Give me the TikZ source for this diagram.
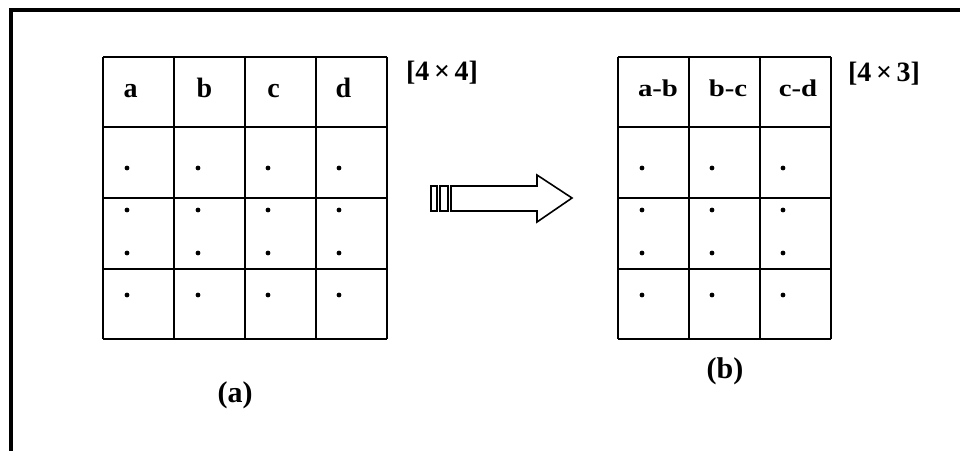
\documentclass[tikz,border=0pt]{standalone}
\usepackage{fontspec}
\setmainfont{Liberation Serif}
\usepackage{tikz}
\usetikzlibrary{positioning,calc}
\newcommand{\widetext}[1]{\scalebox{1.2}[1]{#1}}

\begin{document}
\begin{tikzpicture}[x=1pt,y=-1pt,line join=miter,
  cell/.style={line width=1.6pt},
  collabel/.style={font=\bfseries\fontsize{28}{28}\selectfont,inner sep=0pt,anchor=base},
  pairlabel/.style={font=\bfseries\fontsize{24}{24}\selectfont,inner sep=0pt,anchor=base},
  dimlabel/.style={font=\bfseries\fontsize{28}{28}\selectfont,inner sep=0pt,anchor=base},
  sublabel/.style={font=\bfseries\fontsize{30}{30}\selectfont,inner sep=0pt,anchor=base}]
\useasboundingbox (0,0) rectangle (960,450);
% frame
\draw[line width=3.5pt](11,452)--(11,10)--(962,10);
% table (a)
\foreach \x in {103,174,245,316,387} \draw[cell](\x,57)--(\x,339);
\foreach \y in {57,127,198,269,339} \draw[cell](103,\y)--(387,\y);
\node[collabel] (ca) at (130.5,97) {a};
\node[collabel] (cb) at (204.5,97) {b};
\node[collabel] (cc) at (273.5,97) {c};
\node[collabel] (cd) at (343.5,97) {d};
\foreach \x in {127,198,268,339}
  \foreach \y in {168,210,253,295} \fill(\x,\y)circle(2.4);
\node[dimlabel] (sa) at (442,80) {[4\,×\,4]};
\node[sublabel] (labela) at (235,402) {(a)};
% arrow
\draw[cell](431,186)rectangle(437,211);
\draw[cell](440,186)rectangle(448,211);
\draw[cell](451,186)--(537,186)--(537,175)--(572,198)--(537,222)--(537,211)--(451,211)--cycle;
% table (b)
\foreach \x in {618,689,760,831} \draw[cell](\x,57)--(\x,339);
\foreach \y in {57,127,198,269,339} \draw[cell](618,\y)--(831,\y);
\node[pairlabel] (cab) at (658,96) {\widetext{a-b}};
\node[pairlabel] (cbc) at (728,96) {\widetext{b-c}};
\node[pairlabel] (ccd) at (798,96) {\widetext{c-d}};
\foreach \x in {642,712,783}
  \foreach \y in {168,210,253,295} \fill(\x,\y)circle(2.4);
\node[dimlabel] (sb) at (884,81) {[4\,×\,3]};
\node[sublabel] (labelb) at (725,378) {(b)};
\end{tikzpicture}
\end{document}
